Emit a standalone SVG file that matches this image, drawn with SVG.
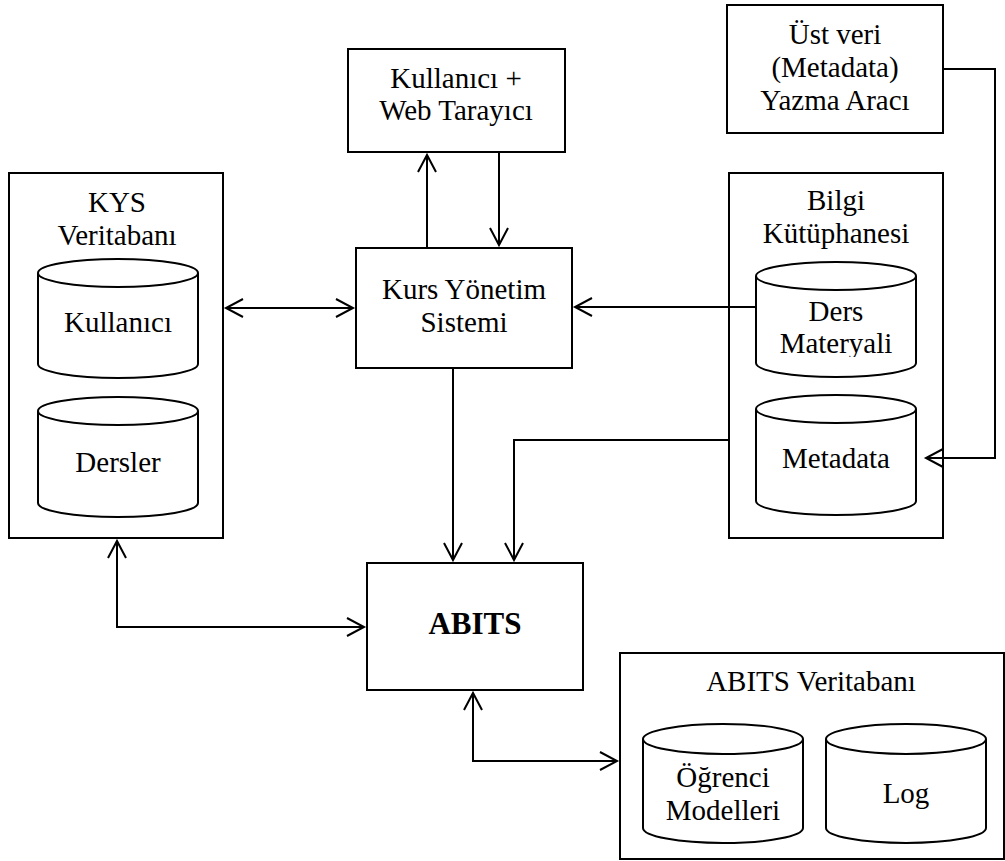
<svg xmlns="http://www.w3.org/2000/svg" width="1005" height="861" viewBox="0 0 1005 861">
  <style>
    .box { fill: #fff; stroke: #000; stroke-width: 2; }
    .cyl { fill: #fff; stroke: #000; stroke-width: 2; }
    .lbl { font-size: 29px; fill: #000; text-anchor: middle; }
    .bold { font-weight: bold; font-size: 31px; }
    .wire { fill: none; stroke: #000; stroke-width: 2; }
  </style>
  <defs>
    <marker id="arrow" markerUnits="userSpaceOnUse" markerWidth="24" markerHeight="24" viewBox="-20 -12 24 24" refX="0" refY="0" orient="auto-start-reverse">
      <path d="M-17,-9 L0,0 L-17,9" fill="none" stroke="#000" stroke-width="2"/>
    </marker>
    <clipPath id="clipDers">
      <rect x="756" y="262" width="160" height="95"/>
    </clipPath>
  </defs>
  <rect width="1005" height="861" fill="#fff"/>

  <!-- Web browser / user -->
  <g id="user-browser">
    <rect class="box" x="348" y="49" width="217" height="103"/>
    <text class="lbl" font-family="Liberation Serif" x="456" y="88">Kullanıcı +</text>
    <text class="lbl" font-family="Liberation Serif" x="456" y="120">Web Tarayıcı</text>
  </g>

  <!-- Metadata authoring tool -->
  <g id="metadata-tool">
    <rect class="box" x="727" y="5" width="216" height="128"/>
    <text class="lbl" font-family="Liberation Serif" x="835" y="44">Üst veri</text>
    <text class="lbl" font-family="Liberation Serif" x="835" y="77">(Metadata)</text>
    <text class="lbl" font-family="Liberation Serif" x="835" y="110">Yazma Aracı</text>
  </g>

  <!-- LMS database -->
  <g id="kys-db">
    <rect class="box" x="9" y="173" width="214" height="365"/>
    <text class="lbl" font-family="Liberation Serif" x="117" y="212">KYS</text>
    <text class="lbl" font-family="Liberation Serif" x="117" y="245">Veritabanı</text>
    <path class="cyl" d="M38,273 A80,14 0 0 1 198,273 L198,364 A80,14 0 0 1 38,364 Z"/>
    <path class="cyl" d="M38,273 A80,14 0 0 0 198,273"/>
    <text class="lbl" font-family="Liberation Serif" x="118" y="332">Kullanıcı</text>
    <path class="cyl" d="M38,411 A80,14 0 0 1 198,411 L198,503 A80,14 0 0 1 38,503 Z"/>
    <path class="cyl" d="M38,411 A80,14 0 0 0 198,411"/>
    <text class="lbl" font-family="Liberation Serif" x="118" y="472">Dersler</text>
  </g>

  <!-- Knowledge library -->
  <g id="bilgi-kutuphanesi">
    <rect class="box" x="729" y="173" width="214" height="365"/>
    <text class="lbl" font-family="Liberation Serif" x="836" y="210">Bilgi</text>
    <text class="lbl" font-family="Liberation Serif" x="836" y="243">Kütüphanesi</text>
    <path class="cyl" d="M756,276 A80,14 0 0 1 916,276 L916,363 A80,14 0 0 1 756,363 Z"/>
    <path class="cyl" d="M756,276 A80,14 0 0 0 916,276"/>
    <text class="lbl" font-family="Liberation Serif" x="836" y="321">Ders</text>
    <text class="lbl" font-family="Liberation Serif" x="836" y="353" clip-path="url(#clipDers)">Materyali</text>
    <path class="cyl" d="M756,409 A80,14 0 0 1 916,409 L916,501 A80,14 0 0 1 756,501 Z"/>
    <path class="cyl" d="M756,409 A80,14 0 0 0 916,409"/>
    <text class="lbl" font-family="Liberation Serif" x="836" y="468">Metadata</text>
  </g>

  <!-- Course management system -->
  <g id="kurs-yonetim">
    <rect class="box" x="356" y="248" width="216" height="120"/>
    <text class="lbl" font-family="Liberation Serif" x="464" y="299">Kurs Yönetim</text>
    <text class="lbl" font-family="Liberation Serif" x="464" y="332">Sistemi</text>
  </g>

  <!-- ABITS -->
  <g id="abits">
    <rect class="box" x="367" y="563" width="216" height="127"/>
    <text class="lbl bold" font-family="Liberation Serif" x="475" y="634">ABITS</text>
  </g>

  <!-- ABITS database -->
  <g id="abits-db">
    <rect class="box" x="620" y="653" width="384" height="206"/>
    <text class="lbl" font-family="Liberation Serif" x="811" y="691">ABITS Veritabanı</text>
    <path class="cyl" d="M643,739 A80,15 0 0 1 803,739 L803,828 A80,15 0 0 1 643,828 Z"/>
    <path class="cyl" d="M643,739 A80,15 0 0 0 803,739"/>
    <text class="lbl" font-family="Liberation Serif" x="723" y="787">Öğrenci</text>
    <text class="lbl" font-family="Liberation Serif" x="723" y="820">Modelleri</text>
    <path class="cyl" d="M826,739 A80,15 0 0 1 986,739 L986,828 A80,15 0 0 1 826,828 Z"/>
    <path class="cyl" d="M826,739 A80,15 0 0 0 986,739"/>
    <text class="lbl" font-family="Liberation Serif" x="906" y="803">Log</text>
  </g>

  <!-- Connectors -->
  <g id="connectors">
    <path class="wire" d="M226,308 L353,308" marker-start="url(#arrow)" marker-end="url(#arrow)"/>
    <path class="wire" d="M427,248 L427,155" marker-end="url(#arrow)"/>
    <path class="wire" d="M499,152 L499,245" marker-end="url(#arrow)"/>
    <path class="wire" d="M756,307 L575,307" marker-end="url(#arrow)"/>
    <path class="wire" d="M453,368 L453,560" marker-end="url(#arrow)"/>
    <path class="wire" d="M729,440 L514,440 L514,560" marker-end="url(#arrow)"/>
    <path class="wire" d="M943,69 L995,69 L995,458 L926,458" marker-end="url(#arrow)"/>
    <path class="wire" d="M117,541 L117,627 L364,627" marker-start="url(#arrow)" marker-end="url(#arrow)"/>
    <path class="wire" d="M473,693 L473,761 L617,761" marker-start="url(#arrow)" marker-end="url(#arrow)"/>
  </g>
</svg>
